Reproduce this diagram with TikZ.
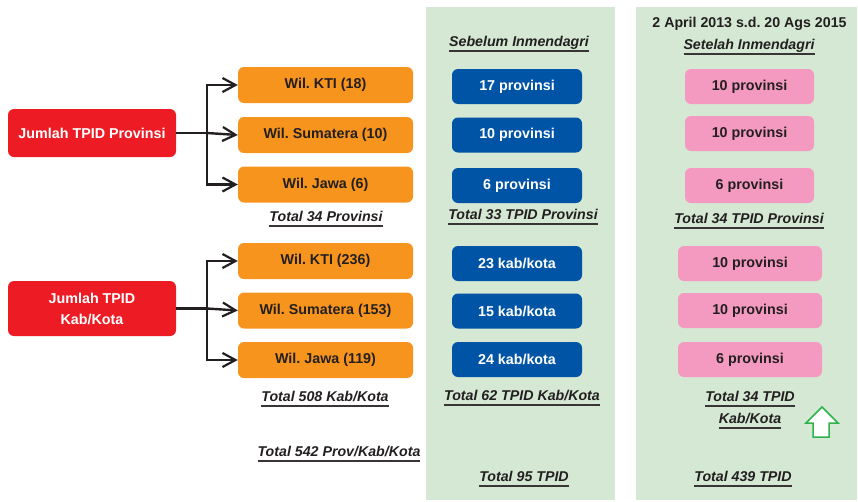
\documentclass[tikz,border=0pt]{standalone}
\usepackage{fontspec}
\setmainfont{Liberation Sans}
\usetikzlibrary{arrows.meta}
\frenchspacing
\definecolor{redbox}{HTML}{ED1C24}
\definecolor{orangebox}{HTML}{F7941D}
\definecolor{bluebox}{HTML}{0054A6}
\definecolor{pinkbox}{HTML}{F49AC1}
\definecolor{panelgreen}{HTML}{D5E8D4}
\definecolor{darktext}{HTML}{231F20}
\definecolor{arrowgreen}{HTML}{2DB34A}
\newcommand\myul[1]{\setbox0\hbox{#1}\rlap{\color{darktext!90}\vrule height -3.6pt depth 5pt width \wd0}\box0}
\tikzset{
  box/.style={rounded corners=6pt, inner sep=0pt, align=center, font=\fontsize{14.3}{21}\selectfont\bfseries},
  redn/.style={box, fill=redbox, text=white, minimum width=168pt},
  orangen/.style={box, fill=orangebox, text=darktext, minimum width=175pt, minimum height=36pt},
  bluen/.style={box, fill=bluebox, text=white, minimum width=130pt, minimum height=35pt},
  pinkn/.style={box, fill=pinkbox, text=darktext, minimum height=35pt},
  lbl/.style={inner sep=0pt, align=center, text=darktext, font=\fontsize{14.2}{22}\selectfont\bfseries\itshape},
  hdr/.style={inner sep=0pt, text=darktext, font=\fontsize{14.2}{17}\selectfont\bfseries},
  conn/.style={draw=darktext, line width=2.4pt, -{Straight Barb[length=13pt,width=14pt,line width=2.2pt]}},
  plain/.style={draw=darktext, line width=2.4pt}
}
\begin{document}
\begin{tikzpicture}[x=1pt,y=-1pt]
\useasboundingbox (0,0) rectangle (858,501);
% panels
\fill[panelgreen] (426,7) rectangle (615,500);
\fill[panelgreen] (636,7) rectangle (857,500);

% red boxes
\node[redn, minimum height=48pt] (r1) at (92,133) {Jumlah TPID Provinsi};
\node[redn, minimum height=55pt] (r2) at (92,308.5) {Jumlah TPID\\Kab/Kota};

% orange boxes
\node[orangen] (o1) at (325.5,85) {Wil. KTI (18)};
\node[orangen] (o2) at (325.5,135) {Wil. Sumatera (10)};
\node[orangen] (o3) at (325.5,184.5) {Wil. Jawa (6)};
\node[orangen] (o4) at (325.5,261) {Wil. KTI (236)};
\node[orangen] (o5) at (325.5,310.5) {Wil. Sumatera (153)};
\node[orangen] (o6) at (325.5,360) {Wil. Jawa (119)};

% connectors
\coordinate (b1) at (207,133);
\coordinate (b2) at (207,308.5);
\draw[plain] (r1.east) -- (b1);
\draw[conn] (b1) -- (o2.west);
\draw[conn] (b1) |- (o1.west);
\draw[conn] (b1) |- (o3.west);
\draw[plain] (r2.east) -- (b2);
\draw[conn] (b2) -- (o5.west);
\draw[conn] (b2) |- (o4.west);
\draw[conn] (b2) |- (o6.west);

% blue boxes
\node[bluen] (u1) at (517,86.5) {17 provinsi};
\node[bluen] (u2) at (517,135) {10 provinsi};
\node[bluen] (u3) at (517,185.5) {6 provinsi};
\node[bluen] (u4) at (517,263.5) {23 kab/kota};
\node[bluen] (u5) at (517,311) {15 kab/kota};
\node[bluen] (u6) at (517,359.5) {24 kab/kota};

% pink boxes
\node[pinkn, minimum width=129pt] (p1) at (749.5,86.5) {10 provinsi};
\node[pinkn, minimum width=129pt] (p2) at (749.5,133.5) {10 provinsi};
\node[pinkn, minimum width=129pt] (p3) at (749.5,185.5) {6 provinsi};
\node[pinkn, minimum width=144pt] (p4) at (750,263.5) {10 provinsi};
\node[pinkn, minimum width=144pt] (p5) at (750,310.5) {10 provinsi};
\node[pinkn, minimum width=144pt] (p6) at (750,359.5) {6 provinsi};

% headers and labels
\node[lbl] (h1) at (519,44) {\myul{Sebelum Inmendagri}};
\node[hdr] (h2) at (749.5,24) {2 April 2013 s.d. 20 Ags 2015};
\node[lbl] (h3) at (749,47) {\myul{Setelah Inmendagri}};

\node[lbl] (t1) at (326,219) {\myul{Total 34 Provinsi}};
\node[lbl] (t2) at (523,217) {\myul{Total 33 TPID Provinsi}};
\node[lbl] (t3) at (749,221) {\myul{Total 34 TPID Provinsi}};
\node[lbl] (t4) at (325,399) {\myul{Total 508 Kab/Kota}};
\node[lbl] (t5) at (522,398) {\myul{Total 62 TPID Kab/Kota}};
\node[lbl] (t6) at (750,410) {\myul{Total 34 TPID}\\\myul{Kab/Kota}};
\node[lbl] (t7) at (339,454) {\myul{Total 542 Prov/Kab/Kota}};
\node[lbl] (t8) at (524,479) {\myul{Total 95 TPID}};
\node[lbl] (t9) at (743,479) {\myul{Total 439 TPID}};

% green outline arrow
\draw[arrowgreen, line width=1.5pt, fill=white, line join=miter]
  (822,407) -- (838,423) -- (829,423) -- (829,437) -- (813,437) -- (813,423) -- (806,423) -- cycle;
\end{tikzpicture}
\end{document}
